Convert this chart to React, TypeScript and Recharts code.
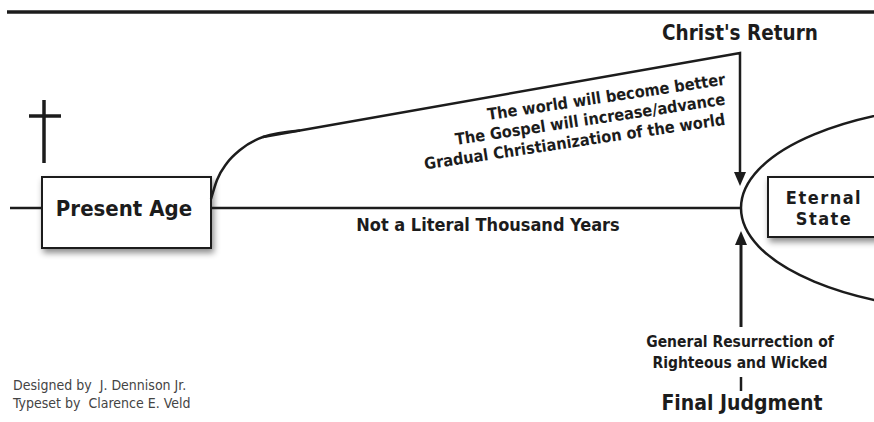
import { ComposedChart, XAxis, YAxis, Line, ReferenceLine, ReferenceArea, ReferenceDot } from "recharts";

const W = 874;
const H = 422;
const INK = "#1c1c1c";
const FONT = "'DejaVu Sans Condensed', 'DejaVu Sans', sans-serif";
const NARROW = "'Liberation Sans Narrow', 'DejaVu Sans Condensed', sans-serif";

// diagram geometry (x to the right, y downward)
const headRule = [{ x: 7, y: 12 }, { x: 874, y: 12 }];
const leadIn = [{ x: 10, y: 208 }, { x: 42, y: 208 }];
const thousandYears = [{ x: 211, y: 208 }, { x: 742, y: 208 }];
const riseCurve = [
  { x: 211, y: 199 },
  { x: 217, y: 180 },
  { x: 227, y: 163 },
  { x: 240, y: 150 },
  { x: 263, y: 137 },
  { x: 300, y: 130.5 },
];
const riseToReturn = [
  { x: 263, y: 137 },
  { x: 740, y: 53 },
  { x: 740, y: 174 },
];

// texts
const presentAge = "Present Age";
const eternalState = ["Eternal", "State"];
const christsReturn = "Christ's Return";
const notLiteral = "Not a Literal Thousand Years";
const progressNotes = [
  "The world will become better",
  "The Gospel will increase/advance",
  "Gradual Christianization of the world",
];
const resurrection = ["General Resurrection of", "Righteous and Wicked"];
const finalJudgment = "Final Judgment";
const credits = ["Designed by  J. Dennison Jr.", "Typeset by  Clarence E. Veld"];

type TextOpts = {
  size: number;
  weight?: number | string;
  anchor?: "start" | "middle" | "end";
  family?: string;
  fill?: string;
  rotate?: number;
  spacing?: number;
};

const textShape = (label: string, o: TextOpts) => (props: any) => {
  const { cx, cy } = props;
  return (
    <text
      x={cx}
      y={cy}
      dy="0.35em"
      textAnchor={o.anchor ?? "middle"}
      fontSize={o.size}
      fontWeight={o.weight ?? "bold"}
      fontFamily={o.family ?? FONT}
      fill={o.fill ?? INK}
      letterSpacing={o.spacing}
      style={{ whiteSpace: "pre" }}
      transform={o.rotate ? `rotate(${o.rotate} ${cx} ${cy})` : undefined}
    >
      {label}
    </text>
  );
};

const arrowHead = (dir: 1 | -1) => (props: any) => {
  const { cx, cy } = props;
  return (
    <polygon
      points={`${cx - 6},${cy - dir * 14} ${cx + 6},${cy - dir * 14} ${cx},${cy}`}
      fill={INK}
    />
  );
};

const shadowBox = (props: any) => {
  const { x, y, width, height } = props;
  return (
    <g>
      <defs>
        <filter id="boxShadow" x="-20%" y="-20%" width="140%" height="160%">
          <feDropShadow dx="2" dy="4" stdDeviation="3" floodColor="#000" floodOpacity="0.45" />
        </filter>
      </defs>
      <rect x={x} y={y} width={width} height={height} fill="#fff" stroke={INK} strokeWidth={2} filter="url(#boxShadow)" />
    </g>
  );
};

const ellipseShape = (props: any) => {
  const { x, y, width, height } = props;
  return (
    <ellipse
      cx={x + width / 2}
      cy={y + height / 2}
      rx={width / 2}
      ry={height / 2}
      fill="none"
      stroke={INK}
      strokeWidth={2.5}
    />
  );
};

const lineProps = {
  dataKey: "y",
  dot: false,
  activeDot: false,
  isAnimationActive: false,
  stroke: INK,
  legendType: "none" as const,
};

export default function App() {
  return (
    <div style={{ position: "absolute", left: 0, top: 0, background: "#fff" }}>
      <ComposedChart width={W} height={H} margin={{ top: 0, right: 0, bottom: 0, left: 0 }}>
        <XAxis type="number" dataKey="x" domain={[0, W]} allowDataOverflow hide />
        <YAxis type="number" dataKey="y" domain={[0, H]} reversed allowDataOverflow hide />

        <ReferenceArea x1={741} x2={1241} y1={104} y2={312} ifOverflow="visible" shape={ellipseShape} />
        <ReferenceArea x1={42} x2={211} y1={177} y2={248} ifOverflow="visible" shape={shadowBox} />
        <ReferenceArea x1={768} x2={905} y1={177} y2={237} ifOverflow="visible" shape={shadowBox} />

        <Line {...lineProps} data={headRule} strokeWidth={3.5} />
        <Line {...lineProps} data={leadIn} strokeWidth={2.5} />
        <Line {...lineProps} data={thousandYears} strokeWidth={2.5} />
        <Line {...lineProps} data={riseCurve} type="monotoneX" strokeWidth={2.5} />
        <Line {...lineProps} data={riseToReturn} strokeWidth={2.5} />

        {/* cross */}
        <ReferenceLine segment={[{ x: 44, y: 100 }, { x: 44, y: 163 }]} stroke={INK} strokeWidth={3.5} ifOverflow="visible" />
        <ReferenceLine segment={[{ x: 29, y: 116 }, { x: 61, y: 116 }]} stroke={INK} strokeWidth={3.5} ifOverflow="visible" />

        {/* resurrection arrow and tick */}
        <ReferenceLine segment={[{ x: 741, y: 327 }, { x: 741, y: 243 }]} stroke={INK} strokeWidth={3} ifOverflow="visible" />
        <ReferenceLine segment={[{ x: 741, y: 377 }, { x: 741, y: 391 }]} stroke={INK} strokeWidth={2.5} ifOverflow="visible" />

        <ReferenceDot x={740} y={186} r={0} ifOverflow="visible" shape={arrowHead(1)} />
        <ReferenceDot x={741} y={231} r={0} ifOverflow="visible" shape={arrowHead(-1)} />

        <ReferenceDot x={124} y={208} ifOverflow="visible" shape={textShape(presentAge, { size: 22 })} />
        {eternalState.map((t, i) => (
          <ReferenceDot
            key={t}
            x={824}
            y={197.5 + i * 21}
            ifOverflow="visible"
            shape={textShape(t, { size: 18, spacing: 1.5 })}
          />
        ))}
        <ReferenceDot x={740} y={33} ifOverflow="visible" shape={textShape(christsReturn, { size: 20.5 })} />
        <ReferenceDot x={488} y={225} ifOverflow="visible" shape={textShape(notLiteral, { size: 18 })} />
        {progressNotes.map((t, i) => (
          <ReferenceDot
            key={t}
            x={725}
            y={79 + i * 20}
            ifOverflow="visible"
            shape={textShape(t, { size: 16.2, anchor: "end", rotate: -8.5 })}
          />
        ))}
        {resurrection.map((t, i) => (
          <ReferenceDot key={t} x={740} y={342 + i * 21} ifOverflow="visible" shape={textShape(t, { size: 15.5 })} />
        ))}
        <ReferenceDot x={742} y={403} ifOverflow="visible" shape={textShape(finalJudgment, { size: 21, weight: 600 })} />
        {credits.map((t, i) => (
          <ReferenceDot
            key={t}
            x={13}
            y={385 + i * 18}
            ifOverflow="visible"
            shape={textShape(t, { size: 14, anchor: "start", family: NARROW, weight: "normal", fill: "#444" })}
          />
        ))}
      </ComposedChart>
    </div>
  );
}
